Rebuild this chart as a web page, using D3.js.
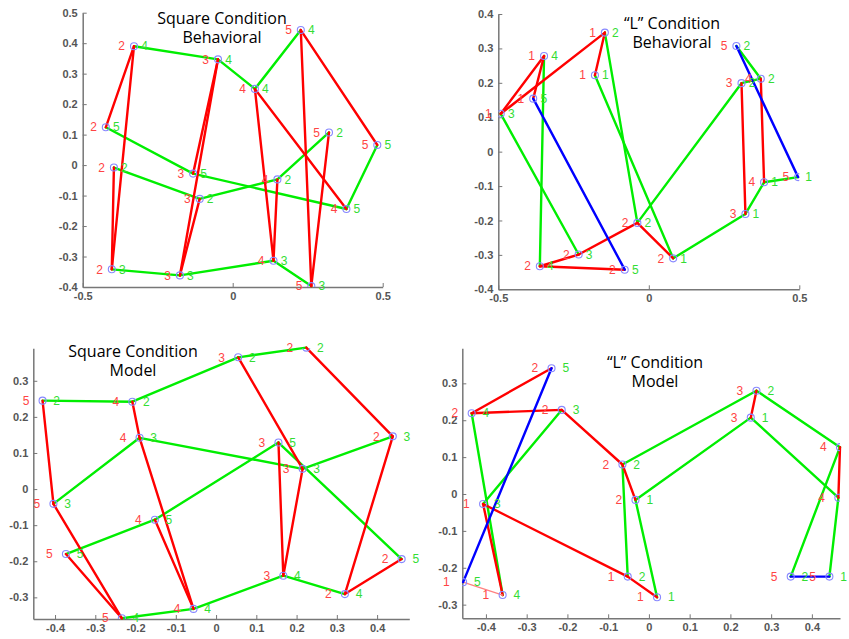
<!DOCTYPE html>
<html>
<head>
<meta charset="utf-8">
<script src="https://cdn.jsdelivr.net/npm/d3@7"></script>
<style>
  body { margin: 0; background: #fff; }
  svg { display: block; }
</style>
</head>
<body>
<div id="chart"></div>
<script>
// points: [x, y, row, col] -- red label = row, green label = col
const sqBehPts = [
  [-0.396, -0.008, 2, 2], [-0.403, -0.342, 2, 3], [-0.329, 0.390, 2, 4], [-0.423, 0.124, 2, 5],
  [-0.110, -0.111, 3, 2], [-0.176, -0.362, 3, 3], [-0.049, 0.347, 3, 4], [-0.132, -0.028, 3, 5],
  [0.149, -0.047, 4, 2], [0.136, -0.314, 4, 3], [0.074, 0.250, 4, 4], [0.379, -0.144, 4, 5],
  [0.321, 0.107, 5, 2], [0.262, -0.397, 5, 3], [0.227, 0.443, 5, 4], [0.482, 0.066, 5, 5]
];
const lBehPts = [
  [-0.179, 0.222, 1, 1], [-0.146, 0.346, 1, 2], [-0.492, 0.110, 1, 3], [-0.348, 0.278, 1, 4], [-0.384, 0.154, 1, 5],
  [0.081, -0.310, 2, 1], [-0.038, -0.207, 2, 2], [-0.233, -0.299, 2, 3], [-0.362, -0.333, 2, 4], [-0.080, -0.343, 2, 5],
  [0.321, -0.181, 3, 1], [0.308, 0.199, 3, 2],
  [0.383, -0.089, 4, 1], [0.372, 0.212, 4, 2],
  [0.496, -0.074, 5, 1], [0.291, 0.307, 5, 2]
];
const sqModPts = [
  [0.224, 0.392, 2, 2], [0.439, 0.146, 2, 3], [0.320, -0.291, 2, 4], [0.461, -0.194, 2, 5],
  [0.055, 0.365, 3, 2], [0.215, 0.056, 3, 3], [0.167, -0.240, 3, 4], [0.155, 0.129, 3, 5],
  [-0.208, 0.242, 4, 2], [-0.190, 0.142, 4, 3], [-0.056, -0.332, 4, 4], [-0.152, -0.085, 4, 5],
  [-0.431, 0.245, 5, 2], [-0.404, -0.041, 5, 3], [-0.234, -0.358, 5, 4], [-0.373, -0.180, 5, 5]
];
const lModPts = [
  [0.020, -0.280, 1, 1], [-0.052, -0.224, 1, 2], [-0.407, -0.027, 1, 3], [-0.359, -0.274, 1, 4], [-0.456, -0.239, 1, 5],
  [-0.033, -0.016, 2, 1], [-0.065, 0.080, 2, 2], [-0.214, 0.228, 2, 3], [-0.435, 0.219, 2, 4], [-0.239, 0.341, 2, 5],
  [0.250, 0.207, 3, 1], [0.264, 0.280, 3, 2],
  [0.465, -0.010, 4, 1], [0.469, 0.127, 4, 2],
  [0.443, -0.224, 5, 1], [0.348, -0.224, 5, 2]
];

// tick values
const xTicksBeh = [-0.5, 0, 0.5];
const yTicksSqBeh = [-0.4, -0.3, -0.2, -0.1, 0, 0.1, 0.2, 0.3, 0.4, 0.5];
const yTicksLBeh = [-0.4, -0.3, -0.2, -0.1, 0, 0.1, 0.2, 0.3, 0.4];
const xTicksMod = [-0.4, -0.3, -0.2, -0.1, 0, 0.1, 0.2, 0.3, 0.4];
const yTicksMod = [-0.3, -0.2, -0.1, 0, 0.1, 0.2, 0.3];

// which rows / cols are drawn blue, and thin segments [row, colA, row, colB]
const lBlueRows = [5], lBlueCols = [5];
const lModThin = [[1, 4, 1, 5]];

const W = 849, H = 639;

const panels = [
  { pts: sqBehPts, title: ["Square Condition", "Behavioral"], tx: 222, ty: 18,
    xd: [-0.5, 0.5], xr: [82.7, 382.7], yd: [-0.4, 0.5], yr: [287, 12.7],
    xt: xTicksBeh, yt: yTicksSqBeh, blueRows: [], blueCols: [], thin: [] },
  { pts: lBehPts, title: ["\u201CL\u201D Condition", "Behavioral"], tx: 672, ty: 23,
    xd: [-0.5, 0.5], xr: [498.3, 799.3], yd: [-0.4, 0.4], yr: [289.3, 14],
    xt: xTicksBeh, yt: yTicksLBeh, blueRows: lBlueRows, blueCols: lBlueCols, thin: [] },
  { pts: sqModPts, title: ["Square Condition", "Model"], tx: 133, ty: 351.5,
    xd: [-0.454, 0.48], xr: [33.3, 409.3], yd: [-0.36, 0.39], yr: [619, 348.3],
    xt: xTicksMod, yt: yTicksMod, blueRows: [], blueCols: [], thin: [] },
  { pts: lModPts, title: ["\u201CL\u201D Condition", "Model"], tx: 655, ty: 362.5,
    xd: [-0.458, 0.469], xr: [462.3, 840], yd: [-0.337, 0.395], yr: [618.3, 348.3],
    xt: xTicksMod, yt: yTicksMod, blueRows: lBlueRows, blueCols: lBlueCols, thin: lModThin }
];

const svg = d3.select("#chart").append("svg")
    .attr("width", W)
    .attr("height", H)
    .style("background", "#fff");

const fmt = d => String(+d.toFixed(1));

panels.forEach((p, pi) => {
    const x = d3.scaleLinear().domain(p.xd).range(p.xr);
    const y = d3.scaleLinear().domain(p.yd).range(p.yr);
    const g = svg.append("g");

    // axes (MATLAB style: ticks inward, no box)
    const ax = g.append("g")
        .attr("transform", `translate(0,${p.yr[0]})`)
        .call(d3.axisBottom(x).tickValues(p.xt).tickFormat(fmt).tickSizeInner(-4).tickSizeOuter(0).tickPadding(5));
    const ay = g.append("g")
        .attr("transform", `translate(${p.xr[0]},0)`)
        .call(d3.axisLeft(y).tickValues(p.yt).tickFormat(fmt).tickSizeInner(-4).tickSizeOuter(0).tickPadding(5));
    [ax, ay].forEach(a => {
        a.select(".domain").attr("stroke", "#777").attr("stroke-width", 1.5);
        a.selectAll(".tick line").attr("stroke", "#777");
        a.selectAll(".tick text").attr("fill", "#555")
            .style("font-family", "'Liberation Sans', Arial, sans-serif")
            .style("font-size", "11px").style("font-weight", "bold");
    });

    // build segments: rows red, columns green
    const segs = [];
    const byRow = d3.group(p.pts, d => d[2]);
    byRow.forEach((arr, r) => {
        arr.sort((a, b) => a[3] - b[3]);
        for (let i = 1; i < arr.length; i++) {
            const thin = p.thin.some(t => t[0] === r && t[1] === arr[i - 1][3] && t[3] === arr[i][3]);
            segs.push({ a: arr[i - 1], b: arr[i], color: p.blueRows.includes(r) ? "#0000ff" : "#ff0000", thin: thin, z: 1 });
        }
    });
    const byCol = d3.group(p.pts, d => d[3]);
    byCol.forEach((arr, c) => {
        arr.sort((a, b) => a[2] - b[2]);
        for (let i = 1; i < arr.length; i++) {
            segs.push({ a: arr[i - 1], b: arr[i], color: p.blueCols.includes(c) ? "#0000ff" : "#00ee00", thin: false, z: 0 });
        }
    });
    segs.sort((s1, s2) => {
        const o = s => s.color === "#0000ff" ? 2 : s.z;
        return o(s1) - o(s2);
    });

    g.selectAll(".seg")
        .data(segs)
        .join("line")
        .attr("class", "seg")
        .attr("x1", d => x(d.a[0])).attr("y1", d => y(d.a[1]))
        .attr("x2", d => x(d.b[0])).attr("y2", d => y(d.b[1]))
        .attr("stroke", d => d.thin ? "#ff8080" : d.color)
        .attr("stroke-width", d => d.thin ? 1.2 : 2.4)
        .attr("stroke-linecap", "round");

    // clip markers to the axes area
    const clipId = "clip" + pi;
    g.append("clipPath").attr("id", clipId)
        .append("rect")
        .attr("x", p.xr[0]).attr("y", p.yr[1])
        .attr("width", p.xr[1] - p.xr[0]).attr("height", p.yr[0] - p.yr[1]);

    g.append("g").attr("clip-path", `url(#${clipId})`)
        .selectAll("circle")
        .data(p.pts)
        .join("circle")
        .attr("cx", d => x(d[0]))
        .attr("cy", d => y(d[1]))
        .attr("r", 3.5)
        .attr("fill", "none")
        .attr("stroke", "#8888ff")
        .attr("stroke-width", 1.1);

    // labels: red row index on the left, green column index on the right
    // (labels falling past the page edge are not shown, as in the original)
    const lab = g.append("g")
        .style("font-family", "'Liberation Sans', Arial, sans-serif")
        .style("font-size", "12px");
    lab.selectAll(".rl")
        .data(p.pts)
        .join("text")
        .attr("class", "rl")
        .attr("x", d => x(d[0] - 0.041))
        .attr("y", d => y(d[1]))
        .attr("dy", "0.35em")
        .attr("text-anchor", "middle")
        .attr("fill", "#ff4444")
        .text(d => d[2]);
    lab.selectAll(".cl")
        .data(p.pts.filter(d => x(d[0] + 0.035) < W - 5))
        .join("text")
        .attr("class", "cl")
        .attr("x", d => x(d[0] + 0.035))
        .attr("y", d => y(d[1]))
        .attr("dy", "0.35em")
        .attr("text-anchor", "middle")
        .attr("fill", "#33dd33")
        .text(d => d[3]);

    // title
    g.selectAll(".title")
        .data(p.title)
        .join("text")
        .attr("class", "title")
        .attr("x", p.tx)
        .attr("y", (d, i) => p.ty + i * 19)
        .attr("dy", "0.35em")
        .attr("text-anchor", "middle")
        .attr("fill", "#000")
        .style("font-family", "'Open Sans', sans-serif")
        .style("font-size", "16px")
        .text(d => d);
});
</script>
</body>
</html>
